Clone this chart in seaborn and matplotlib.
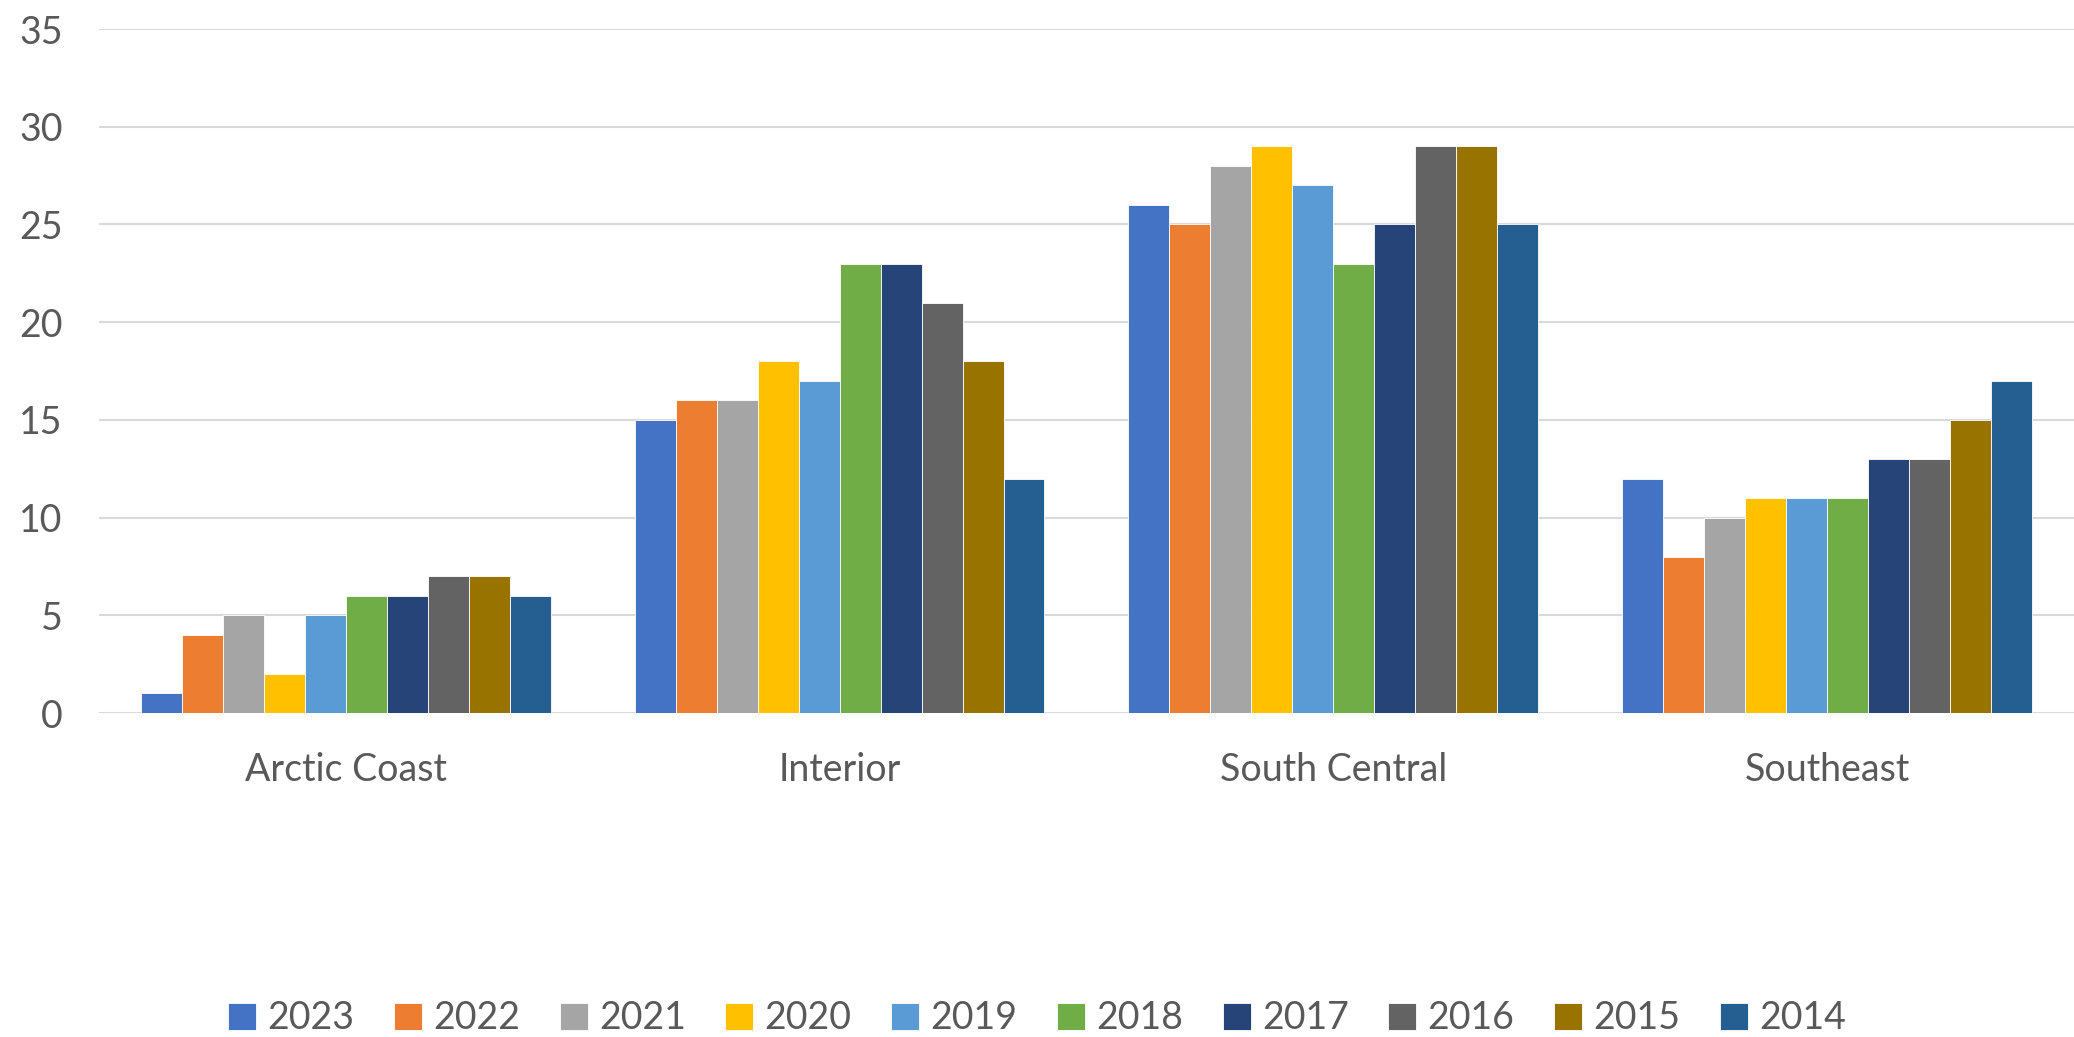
import matplotlib
matplotlib.use("Agg")
import matplotlib.pyplot as plt
import seaborn as sns
import pandas as pd

# data
regions = ["Arctic Coast", "Interior", "South Central", "Southeast"]
years = ["2023", "2022", "2021", "2020", "2019", "2018", "2017", "2016", "2015", "2014"]
v2023 = [1, 15, 26, 12]
v2022 = [4, 16, 25, 8]
v2021 = [5, 16, 28, 10]
v2020 = [2, 18, 29, 11]
v2019 = [5, 17, 27, 11]
v2018 = [6, 23, 23, 11]
v2017 = [6, 23, 25, 13]
v2016 = [7, 21, 29, 13]
v2015 = [7, 18, 29, 15]
v2014 = [6, 12, 25, 17]
series = [v2023, v2022, v2021, v2020, v2019, v2018, v2017, v2016, v2015, v2014]

colors = ["#4472C4", "#ED7D31", "#A5A5A5", "#FFC000", "#5B9BD5",
          "#70AD47", "#264478", "#636363", "#997300", "#255E91"]

rows = []
for yr, vals in zip(years, series):
    for reg, v in zip(regions, vals):
        rows.append({"region": reg, "year": yr, "count": v})
df = pd.DataFrame(rows)

sns.set_style("white")
plt.rcParams['font.family'] = ['Lato', 'DejaVu Sans']
text_col = "#595959"

fig = plt.figure(figsize=(20.74, 10.37), dpi=100)
ax = fig.add_axes([0.0477, 0.3124, 0.9523, 0.6596])

sns.barplot(data=df, x="region", y="count", hue="year", order=regions,
            hue_order=years, palette=colors, saturation=1, width=0.83, gap=0,
            edgecolor="white", linewidth=0.6, ax=ax, legend=True)

ax.set_ylim(0, 35)
ax.set_xlim(-0.5, 3.5)
ax.set_yticks(range(0, 36, 5))
ax.yaxis.grid(True, color="#D9D9D9", linewidth=1.5)
ax.set_axisbelow(True)
for s in ax.spines.values():
    s.set_visible(False)
ax.set_xlabel("")
ax.set_ylabel("")
ax.tick_params(axis="y", length=0, pad=26, labelsize=27, labelcolor=text_col)
ax.tick_params(axis="x", length=0, pad=28, labelsize=27, labelcolor=text_col)

handles, labels = ax.get_legend_handles_labels()
ax.get_legend().remove()
leg = fig.legend(handles, labels, loc="center", bbox_to_anchor=(0.5, 0.018),
                 ncol=10, frameon=False, fontsize=27, handlelength=0.75,
                 handleheight=0.75, handletextpad=0.3, columnspacing=1.05)
for t in leg.get_texts():
    t.set_color(text_col)

fig.savefig("out.png", dpi=100)
